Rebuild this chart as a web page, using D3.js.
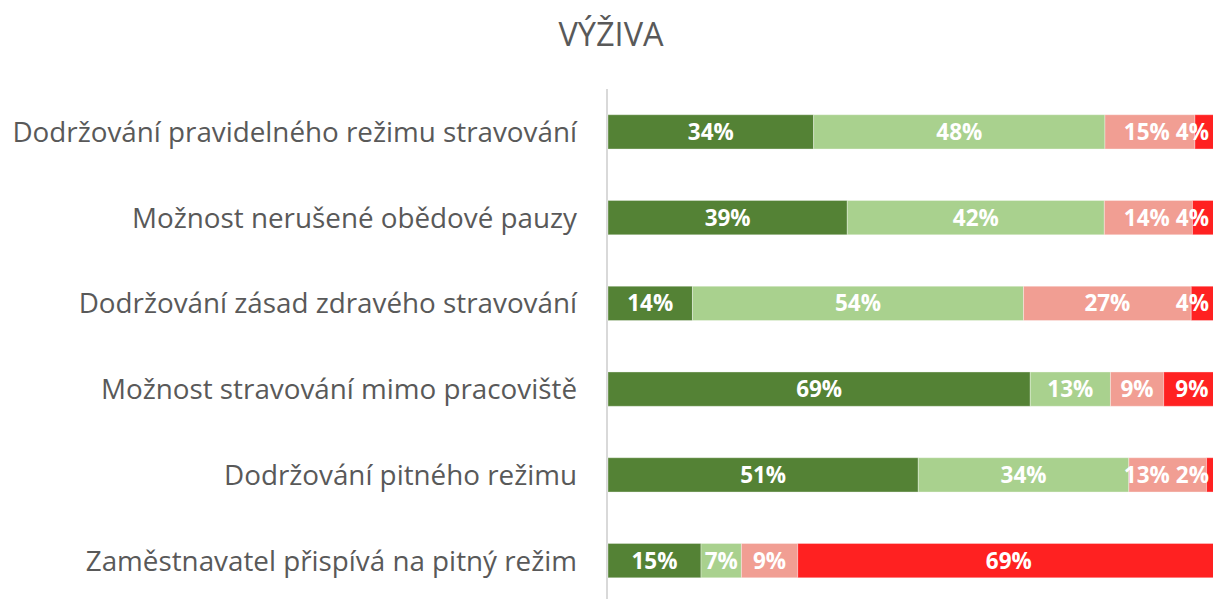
<!DOCTYPE html>
<meta charset="utf-8">
<style>
body { margin: 0; background: #fff; }
.cat { font: 27.8px "Open Sans", sans-serif; fill: #595959; }
.val { font: bold 22.5px "Open Sans", sans-serif; fill: #fff; }
.title { font: 32.5px "Open Sans", sans-serif; fill: #595959; }
</style>
<body>
<script src="https://cdn.jsdelivr.net/npm/d3@7"></script>
<script>
// categories (top to bottom)
var categories = [
  "Dodržování pravidelného režimu stravování",
  "Možnost nerušené obědové pauzy",
  "Dodržování zásad zdravého stravování",
  "Možnost stravování mimo pracoviště",
  "Dodržování pitného režimu",
  "Zaměstnavatel přispívá na pitný režim"
];
// the four answer groups, share in % per category
var s1 = [33.6, 39.1, 13.8, 69.0, 50.7, 15.2];
var s2 = [47.6, 42.0, 54.1, 13.1, 34.4, 6.6];
var s3 = [14.7, 14.4, 27.4, 8.7, 12.7, 9.2];
var s4 = [4.1, 4.4, 4.4, 9.2, 2.2, 69.0];
var colors = ["#548235", "#a9d18e", "#f19e93", "#ff2121"];

var width = 1213, height = 599;
var svg = d3.select("body").append("svg")
    .attr("width", width)
    .attr("height", height);

svg.append("text")
    .attr("class", "title")
    .attr("x", 611)
    .attr("y", 46)
    .attr("text-anchor", "middle")
    .text("VÝŽIVA");

var x = d3.scaleLinear().domain([0, 100]).range([608, 1220]);
var y = d3.scaleBand()
    .domain(categories)
    .range([89, 603.5])
    .paddingInner(0.6)
    .paddingOuter(0.3);

// build stacked rows
var series = [s1, s2, s3, s4];
var rows = categories.map(function(c, i) {
  var acc = 0;
  return series.map(function(s, k) {
    var seg = {cat: c, k: k, v: s[i], x0: acc, x1: acc + s[i]};
    acc += s[i];
    return seg;
  });
});

// vertical axis line
svg.append("line")
    .attr("x1", 607).attr("x2", 607)
    .attr("y1", 89).attr("y2", height)
    .attr("stroke", "#d9d9d9")
    .attr("stroke-width", 2);

var g = svg.append("g");
rows.forEach(function(row) {
  g.selectAll(null)
      .data(row)
    .enter().append("rect")
      .attr("x", function(d) { return x(d.x0); })
      .attr("y", y(row[0].cat))
      .attr("width", function(d) { return x(d.x1) - x(d.x0); })
      .attr("height", y.bandwidth())
      .attr("fill", function(d) { return colors[d.k]; })
      .attr("stroke", "#fff")
      .attr("stroke-opacity", 0.35)
      .attr("stroke-width", 1);

  // labels, shifted left where they would run off the right edge or overlap
  var labels = g.selectAll(null)
      .data(row)
    .enter().append("text")
      .attr("class", "val")
      .attr("text-anchor", "middle")
      .attr("x", function(d) { return (x(d.x0) + x(d.x1)) / 2; })
      .attr("y", y(row[0].cat) + y.bandwidth() / 2)
      .attr("dy", "0.36em")
      .text(function(d) { return Math.round(d.v) + "%"; });
  var nodes = labels.nodes();
  var limit = 1209;
  for (var j = nodes.length - 1; j >= 0; j--) {
    var w = nodes[j].getComputedTextLength();
    var cx = +nodes[j].getAttribute("x");
    if (cx + w / 2 > limit) cx = limit - w / 2;
    nodes[j].setAttribute("x", cx);
    limit = cx - w / 2 - 6;
  }
});

// category labels
svg.append("g").selectAll("text")
    .data(categories)
  .enter().append("text")
    .attr("class", "cat")
    .attr("x", 577)
    .attr("y", function(d) { return y(d) + y.bandwidth() / 2; })
    .attr("dy", "0.36em")
    .attr("text-anchor", "end")
    .text(function(d) { return d; });
</script>
</body>
